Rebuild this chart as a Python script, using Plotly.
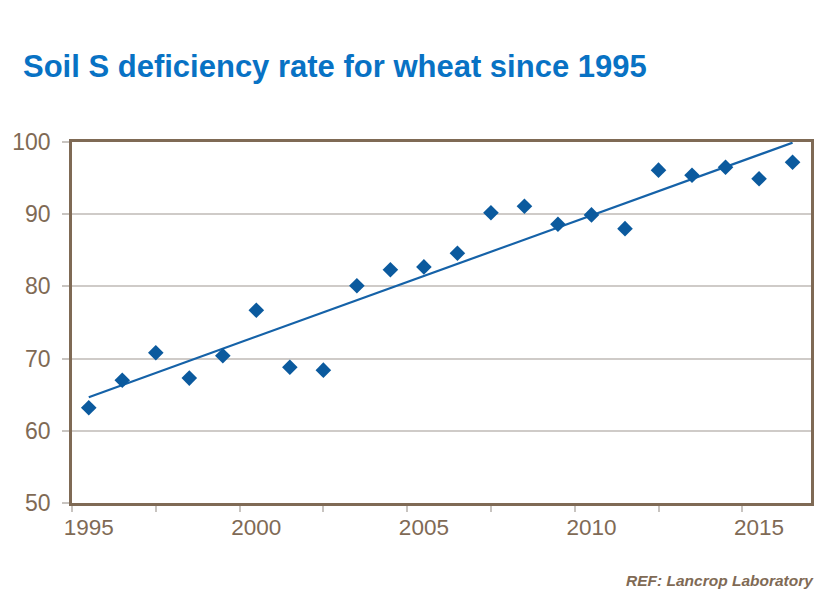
import numpy as np
import plotly.graph_objects as go

years = list(range(1995, 2017))
rates = [63.2, 67.0, 70.8, 67.3, 70.4, 76.7, 68.8, 68.4, 80.1, 82.3, 82.7,
         84.6, 90.2, 91.1, 88.6, 89.9, 88.0, 96.1, 95.4, 96.5, 94.9, 97.2]
x_tick_years = [1995, 2000, 2005, 2010, 2015]
x_tick_text = ["1995", "2000", "2005", "2010", "2015"]
y_tick_vals = [50, 60, 70, 80, 90, 100]

title_text = "Soil S deficiency rate for wheat since 1995"
ref_text = "REF: Lancrop Laboratory"

xs = [y + 0.5 for y in years]
x_tick_vals = [y + 0.5 for y in x_tick_years]
coef = np.polyfit(xs, rates, 1)
trend_x = [xs[0], xs[-1]]
trend_y = [coef[0] * v + coef[1] for v in trend_x]

brown = "#7f6a55"
blue_pt = "#0b5a9e"
blue_ln = "#1562a8"

fig = go.Figure()
fig.add_trace(go.Scatter(x=trend_x, y=trend_y, mode="lines",
                         line=dict(color=blue_ln, width=2.2), showlegend=False))
fig.add_trace(go.Scatter(x=xs, y=rates, mode="markers",
                         marker=dict(symbol="diamond", size=12, color=blue_pt),
                         showlegend=False))

L, R, T, B = 68, 29, 142, 95
W, H = 840, 598
pw = W - L - R
ph = H - T - B

fig.update_layout(
    width=W, height=H,
    margin=dict(l=L, r=R, t=T, b=B),
    paper_bgcolor="white", plot_bgcolor="white",
    font=dict(family="Liberation Sans, Arial, sans-serif", color=brown),
    xaxis=dict(range=[1995, 2017.05], tickvals=x_tick_vals, ticktext=x_tick_text,
               ticks="", ticklen=6, ticklabelstandoff=2,
               showgrid=False, zeroline=False,
               showline=True, linecolor=brown, linewidth=2.5, mirror=True,
               tickfont=dict(size=22.5, color=brown),
               minor=dict(dtick=2.5, tick0=1995, ticks="outside", ticklen=6,
                          tickcolor="#c8c4c0", tickwidth=1.5, showgrid=False)),
    yaxis=dict(range=[50, 100], tickvals=y_tick_vals,
               ticks="outside", ticklen=7, tickcolor="#c8c4c0", tickwidth=1.5,
               ticklabelstandoff=7,
               showgrid=True, gridcolor="#cfcbc8", gridwidth=1.5,
               zeroline=False,
               showline=True, linecolor=brown, linewidth=2.5, mirror=True,
               tickfont=dict(size=23, color=brown)),
    annotations=[
        dict(text="<b>" + title_text + "</b>", xref="paper", yref="paper",
             x=(17 - L) / pw, y=1 + (T - 66) / ph, xanchor="left", yanchor="middle",
             showarrow=False, font=dict(size=31, color="#0872c4",
                                        family="Liberation Sans, Arial, sans-serif")),
        dict(text="<b><i>" + ref_text + "</i></b>", xref="paper", yref="paper",
             x=(816 - L) / pw, y=-(580 - (T + ph)) / ph, xanchor="right", yanchor="middle",
             showarrow=False, font=dict(size=15.5, color=brown)),
    ],
)

fig.write_html("out.html")
